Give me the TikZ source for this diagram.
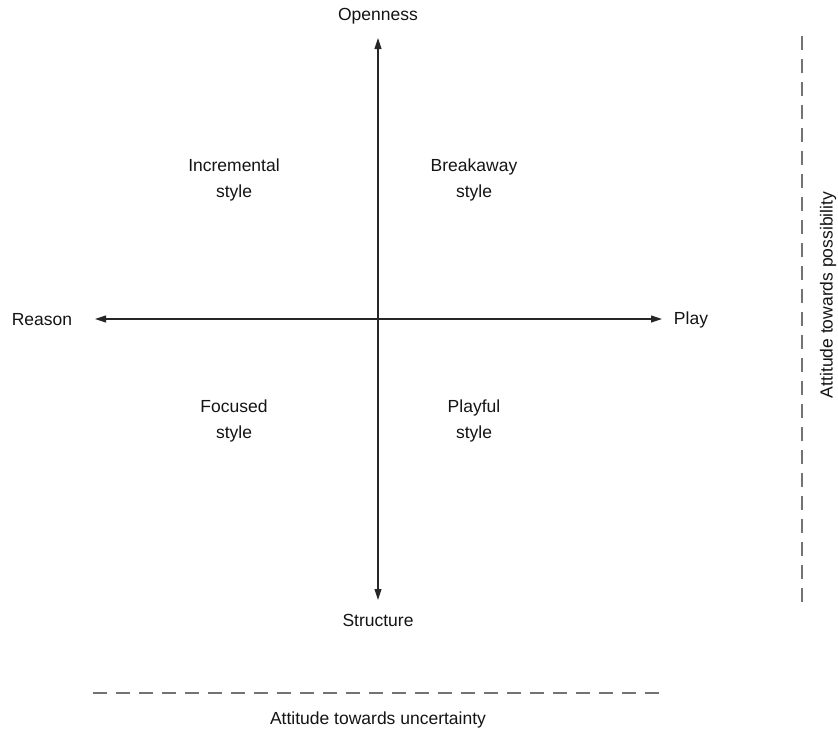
\documentclass[tikz,border=0pt]{standalone}
\usepackage{fontspec}
\setmainfont{Liberation Sans}
\usetikzlibrary{arrows.meta}
\begin{document}
\begin{tikzpicture}[x=1pt,y=-1pt,
  lbl/.style={font=\fontsize{17.5}{26}\selectfont, text=black!92, inner sep=0pt},
  quad/.style={lbl, align=center},
  axis/.style={draw=black!85, line width=1.1pt,
    {Triangle[length=11pt,width=7pt]}-{Triangle[length=11pt,width=7pt]}},
  guide/.style={draw=black!55, line width=1.6pt, dash pattern=on 14pt off 9pt}]
\useasboundingbox (0,0) rectangle (838,729);

% axis labels
\node[lbl] (open) at (378,16) {Openness};
\node[lbl] (struct) at (378,620) {Structure};
\node[lbl] (reason) at (42,320) {Reason};
\node[lbl] (play) at (691,320) {Play};

% axis end points
\coordinate (top) at (378,38);
\coordinate (bot) at (378,600);
\coordinate (lft) at (95,319);
\coordinate (rgt) at (662,319);

\draw[axis] (bot) -- (top);
\draw[axis] (lft) -- (rgt);

% quadrant styles
\node[quad] (incr) at (234,180) {Incremental\\style};
\node[quad] (brk) at (474,180) {Breakaway\\style};
\node[quad] (foc) at (234,421) {Focused\\style};
\node[quad] (plf) at (474,421) {Playful\\style};

% attitude guides
\coordinate (hl) at (93,693);
\coordinate (hr) at (662,693);
\draw[guide] (hl) -- (hr);
\node[lbl] (unc) at (378,720) {Attitude towards uncertainty};

\coordinate (vt) at (802,36);
\coordinate (vb) at (802,602);
\draw[guide] (vt) -- (vb);
\node[lbl, rotate=90] (pos) at (828,295) {Attitude towards possibility};
\end{tikzpicture}
\end{document}
